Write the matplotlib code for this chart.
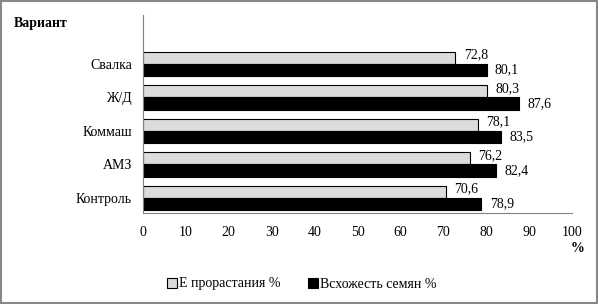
import matplotlib.pyplot as plt
import numpy as np

categories = ['Контроль', 'АМЗ', 'Коммаш', 'Ж/Д', 'Свалка']
e_prorastaniya = [70.6, 76.2, 78.1, 80.3, 72.8]
vskhozhest = [78.9, 82.4, 83.5, 87.6, 80.1]
labels_e = ['70,6', '76,2', '78,1', '80,3', '72,8']
labels_v = ['78,9', '82,4', '83,5', '87,6', '80,1']

plt.rcParams['font.family'] = ['Liberation Serif', 'DejaVu Serif']
plt.rcParams['font.size'] = 10

fig = plt.figure(figsize=(5.98, 3.04), dpi=100)
ax = fig.add_axes([143 / 598, 1 - 213 / 304, (572 - 143) / 598, 198 / 304])

y = np.arange(len(categories))
h = 0.37
b1 = ax.barh(y + h / 2, e_prorastaniya, height=h, color='#dcdcdc', edgecolor='black', linewidth=0.8,
             label='Е прорастания %')
b2 = ax.barh(y - h / 2, vskhozhest, height=h, color='black', edgecolor='black', linewidth=0.8,
             label='Всхожесть семян %')

for i in range(len(categories)):
    ax.annotate(labels_e[i], (e_prorastaniya[i], y[i] + h / 2), xytext=(6, 2), textcoords='offset points',
                va='center', ha='left', fontsize=10)
    ax.annotate(labels_v[i], (vskhozhest[i], y[i] - h / 2), xytext=(6, 0), textcoords='offset points',
                va='center', ha='left', fontsize=10)

ax.set_xlim(0, 100)
ax.set_ylim(-0.45, 5.46)
ax.set_xticks(range(0, 101, 10))
ax.set_yticks(y)
ax.set_yticklabels(categories)
ax.tick_params(length=0, pad=8, labelsize=10)
ax.tick_params(axis='x', pad=9)
for s in ['top', 'right']:
    ax.spines[s].set_visible(False)
ax.spines['left'].set_color('#808080')
ax.spines['bottom'].set_color('#808080')

fig.text(14 / 598, 1 - 24 / 304, 'Вариант', fontweight='bold', fontsize=10, va='center', ha='left')
fig.text(578 / 598, 1 - 248 / 304, '%', fontweight='bold', fontsize=10, va='center', ha='center')

leg = fig.legend(handles=[b1, b2], loc='center', bbox_to_anchor=(302 / 598, 1 - 284 / 304), ncol=2,
                 frameon=False, handlelength=0.7, handleheight=0.7, handletextpad=0.15, columnspacing=2.0,
                 fontsize=10)

fig.patches.append(plt.Rectangle((0.002, 0.003), 0.996, 0.994, transform=fig.transFigure,
                                 fill=False, edgecolor='#888888', linewidth=1.5))

fig.savefig('out.png', dpi=100)
